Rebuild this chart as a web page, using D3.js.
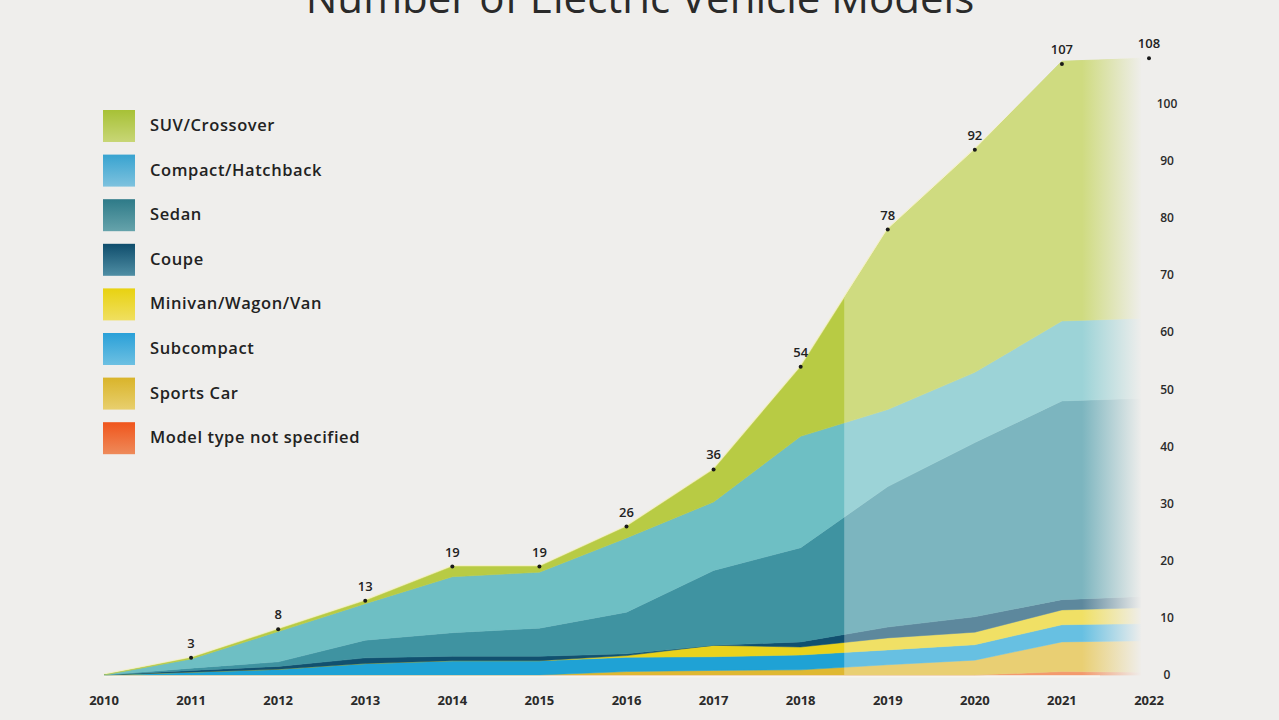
<!DOCTYPE html>
<html><head><meta charset="utf-8">
<script src="https://cdn.jsdelivr.net/npm/d3@7"></script>
<style>
html,body{margin:0;padding:0;background:#efeeec;}
svg{display:block;}
text{font-family:"Open Sans","Noto Sans",sans-serif;}
</style></head>
<body>
<svg id="chart" width="1279" height="720"></svg>
<script>
const years = [2010,2011,2012,2013,2014,2015,2016,2017,2018,2019,2020,2021,2022];
const totals = [0,3,8,13,19,19,26,36,54,78,92,107,108];
const notSpecified = [0,0,0,0,0,0,0,0,0,0,0,0.6,0.5];
const sportsCar    = [0,0,0,0,0,0,0.6,0.8,0.9,1.8,2.6,5.2,5.5];
const subcompact   = [0,0.5,1,2,2.5,2.5,2.5,2.4,2.6,2.6,2.7,3,3];
const minivan      = [0,0,0,0,0,0,0.3,2,1.4,2.1,2.2,2.6,2.8];
const coupe        = [0,0.3,0.5,1,0.8,0.8,0.3,0,0.9,1.9,2.7,1.8,2];
const sedan        = [0,0.4,0.8,3.1,4.1,4.9,7.3,13.1,16.5,24.6,30.5,34.8,34.7];
const compact      = [0,1.6,5.3,6.4,9.8,9.8,13,12,19.5,13.5,12.3,14,14];
const suv          = [0,0.2,0.4,0.5,1.8,1,2,5.7,12.2,31.5,39,45.5,45.5];
const yTicks = [0,10,20,30,40,50,60,70,80,90,100];
const seriesNames = ["Model type not specified","Sports Car","Subcompact","Minivan/Wagon/Van","Coupe","Sedan","Compact/Hatchback","SUV/Crossover"];
const seriesValues = [notSpecified,sportsCar,subcompact,minivan,coupe,sedan,compact,suv];
const seriesColors = ["#ee6a2a","#dfb832","#1fa2d5","#e9d21c","#11506f","#3f93a1","#6ebfc4","#b8cb44"];
const legendColors = [["#f0551c","#ee8a5a"],["#d9b42a","#e8cf6e"],["#2aa0d8","#6dc0e2"],["#e8d210","#f0df60"],["#0f4d6c","#4f8ea4"],["#2e7a88","#66a3ab"],["#38a3d0","#7ec2de"],["#a7c136","#c8d676"]];

const svg = d3.select("#chart");
const x = d3.scaleLinear().domain([2010,2022]).range([104,1149]);
const y = d3.scaleLinear().domain([0,100]).range([675,104]);

const table = years.map((yr,i)=>{const o={year:yr}; seriesNames.forEach((n,k)=>o[n]=seriesValues[k][i]); return o;});
const stack = d3.stack().keys(seriesNames)(table);

const defs = svg.append("defs");
const fg = defs.append("linearGradient").attr("id","fade").attr("x1","0").attr("x2","1").attr("y1","0").attr("y2","0");
fg.append("stop").attr("offset","0").attr("stop-color","#efeeec").attr("stop-opacity",0);
fg.append("stop").attr("offset","1").attr("stop-color","#efeeec").attr("stop-opacity",1);
legendColors.forEach((c,k)=>{
  const g = defs.append("linearGradient").attr("id","lg"+k).attr("x1","0").attr("x2","0").attr("y1","0").attr("y2","1");
  g.append("stop").attr("offset","0").attr("stop-color",c[0]);
  g.append("stop").attr("offset","1").attr("stop-color",c[1]);
});

const area = d3.area().x(d=>x(d.data.year)).y0(d=>y(d[0])).y1(d=>y(d[1]));
const totalArea = d3.area().x((d,i)=>x(years[i])).y0(y(0)).y1(d=>y(d));
defs.append("clipPath").attr("id","totclip").append("path").attr("d", totalArea(totals.map((t,i)=>d3.sum(seriesValues,s=>s[i]))));

svg.append("path").attr("d", d3.line().x((d,i)=>x(years[i])).y(d=>y(d))(totals))
  .attr("fill","none").attr("stroke","#f3f0c8").attr("stroke-width",3);

svg.append("g").selectAll("path").data(stack).join("path")
  .attr("d",area).attr("fill",(d,k)=>seriesColors[k])
  .attr("stroke",(d,k)=>seriesColors[k]).attr("stroke-width",0.5);

svg.append("rect").attr("clip-path","url(#totclip)")
  .attr("x",x(2018.5)).attr("y",0).attr("width",x(2022)-x(2018.5)+5).attr("height",y(0))
  .attr("fill","#ffffff").attr("opacity",0.32);
svg.append("rect").attr("x",1082).attr("y",30).attr("width",60).attr("height",660).attr("fill","url(#fade)");
svg.append("rect").attr("x",1141).attr("y",30).attr("width",20).attr("height",660).attr("fill","#efeeec");

svg.append("line").attr("x1",x(2010)).attr("x2",1100).attr("y1",y(0)+1.5).attr("y2",y(0)+1.5)
  .attr("stroke","#f6f4ee").attr("stroke-width",2);

const pts = svg.append("g");
years.forEach((yr,i)=>{
  if(i===0) return;
  pts.append("circle").attr("cx",x(yr)).attr("cy",y(totals[i])).attr("r",2).attr("fill","#1a1a1a");
  pts.append("text").attr("x",x(yr)).attr("y",y(totals[i])-10).attr("text-anchor","middle")
    .attr("font-size",13).attr("font-weight",600).attr("fill","#222").text(totals[i]);
});

svg.append("g").selectAll("text").data(years).join("text")
  .attr("x",d=>x(d)).attr("y",705).attr("text-anchor","middle")
  .attr("font-size",13).attr("font-weight",700).attr("fill","#2a2a2a").text(d=>d);

svg.append("g").selectAll("text").data(yTicks).join("text")
  .attr("x",1167).attr("y",d=>y(d)+4).attr("text-anchor","middle")
  .attr("font-size",12).attr("font-weight",600).attr("fill","#2a2a2a").text(d=>d);

svg.append("text").attr("x",640).attr("y",13).attr("text-anchor","middle")
  .attr("font-size",42).attr("fill","#2a2a2a").text("Number of Electric Vehicle Models");

const legendOrder = seriesNames.map((n,k)=>k).reverse();
const lg = svg.append("g");
legendOrder.forEach((k,j)=>{
  const cy = 126 + j*44.6;
  lg.append("rect").attr("x",103).attr("y",cy-16).attr("width",32).attr("height",32).attr("fill","url(#lg"+k+")");
  lg.append("text").attr("x",150).attr("y",cy+5).attr("font-size",16.5).attr("font-weight",600)
    .attr("letter-spacing",0.6).attr("fill","#222").text(seriesNames[k]);
});
</script>
</body></html>
